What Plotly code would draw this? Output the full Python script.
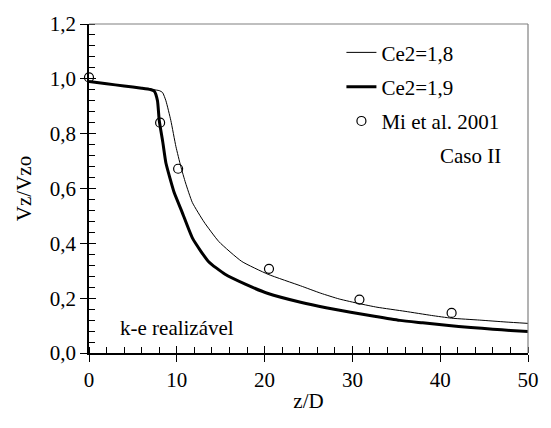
import plotly.graph_objects as go

# Data
x_ce18 = [0, 2, 4, 6, 8, 8.38, 8.76, 9.32, 9.9, 10.45, 11.0, 11.77, 13.1, 14.8, 17.4, 20.4,
          24.1, 26.4, 28.5, 30.8, 32.8, 36, 39, 41.3, 44.5, 47.5, 50]
y_ce18 = [0.99, 0.982, 0.974, 0.966, 0.957, 0.95, 0.92, 0.848, 0.753, 0.681, 0.62, 0.549, 0.478,
          0.406, 0.334, 0.287, 0.245, 0.218, 0.197, 0.18, 0.167, 0.152, 0.137, 0.127, 0.12, 0.113, 0.108]

x_ce19 = [0, 2, 4, 6, 7, 7.44, 7.8, 8.0, 8.4, 8.76, 9.2, 9.7, 10.6, 11.8, 13.6, 15.5, 17.8, 20.4,
          24.1, 27, 29.8, 32.5, 35.4, 38, 40.7, 43.5, 46, 48, 50]
y_ce19 = [0.99, 0.982, 0.974, 0.966, 0.961, 0.955, 0.92, 0.848, 0.77, 0.693, 0.64, 0.585, 0.514,
          0.418, 0.334, 0.287, 0.251, 0.217, 0.185, 0.165, 0.149, 0.134, 0.119, 0.11, 0.101, 0.093,
          0.087, 0.082, 0.078]

x_mi = [0, 8.1, 10.15, 20.5, 30.8, 41.3]
y_mi = [1.005, 0.84, 0.672, 0.307, 0.195, 0.146]

FONT = "Liberation Serif"
FS = 21

fig = go.Figure()
fig.add_trace(go.Scatter(x=x_ce18, y=y_ce18, mode="lines", name="Ce2=1,8",
                         line=dict(color="black", width=1, shape="spline", smoothing=0.5),
                         legendgroup="a"))
fig.add_trace(go.Scatter(x=x_ce19, y=y_ce19, mode="lines", name="Ce2=1,9",
                         line=dict(color="black", width=3, shape="spline", smoothing=0.5),
                         legendgroup="b"))
fig.add_trace(go.Scatter(x=x_mi, y=y_mi, mode="markers", name="Mi et al. 2001",
                         marker=dict(symbol="circle-open", size=9, color="black",
                                     line=dict(width=1.2, color="black")),
                         cliponaxis=False, legendgroup="c"))
# transparent copy on the overlay axes so that they render their inside major ticks
fig.add_trace(go.Scatter(x=x_mi, y=y_mi, xaxis="x2", yaxis="y2", mode="lines",
                         showlegend=False, hoverinfo="skip",
                         line=dict(color="rgba(0,0,0,0)")))

axfont = dict(family=FONT, size=FS, color="black")

fig.update_layout(
    width=551, height=428,
    margin=dict(l=89, r=19, t=19, b=75),
    paper_bgcolor="white", plot_bgcolor="white",
    separators=",.",
    font=dict(family=FONT, size=FS, color="black"),
    showlegend=True,
    legend=dict(x=0.575, y=0.975, xanchor="left", yanchor="top",
                bgcolor="rgba(0,0,0,0)", font=dict(family=FONT, size=FS, color="black"),
                traceorder="grouped", tracegroupgap=4),
    xaxis=dict(range=[0, 50], dtick=10, showgrid=False, zeroline=False,
               showline=True, linecolor="black", linewidth=1.5,
               ticks="outside", ticklen=7, tickwidth=1.2, tickcolor="black",
               minor=dict(dtick=2, ticks="inside", ticklen=6, tickwidth=1, tickcolor="black"),
               tickfont=axfont,
               title=dict(text="z/D", font=axfont, standoff=2)),
    yaxis=dict(range=[0, 1.2], dtick=0.2, tickformat=".1f", showgrid=False, zeroline=False,
               showline=True, linecolor="black", linewidth=1.5,
               ticks="outside", ticklen=7, tickwidth=1.2, tickcolor="black",
               minor=dict(dtick=0.04, ticks="inside", ticklen=6, tickwidth=1, tickcolor="black"),
               tickfont=axfont,
               title=dict(text="Vz/Vzo", font=axfont, standoff=12)),
    xaxis2=dict(range=[0, 50], dtick=10, overlaying="x", anchor="y2", side="bottom",
                showgrid=False, zeroline=False, showline=False, showticklabels=False,
                ticks="inside", ticklen=7, tickwidth=1.2, tickcolor="black"),
    yaxis2=dict(range=[0, 1.2], dtick=0.2, overlaying="y", anchor="x2", side="left",
                showgrid=False, zeroline=False, showline=False, showticklabels=False,
                ticks="inside", ticklen=7, tickwidth=1.2, tickcolor="black"),
    shapes=[
        dict(type="line", xref="paper", yref="paper", x0=0, x1=1, y0=1, y1=1,
             line=dict(color="#808080", width=1.2)),
        dict(type="line", xref="paper", yref="paper", x0=1, x1=1, y0=0, y1=1,
             line=dict(color="#808080", width=1.2)),
    ],
    annotations=[
        dict(text="Caso II", xref="paper", yref="paper", x=0.944, y=0.6,
             xanchor="right", yanchor="middle", showarrow=False, font=axfont),
        dict(text="k-e realizável", xref="paper", yref="paper", x=0.066, y=0.075,
             xanchor="left", yanchor="middle", showarrow=False, font=axfont),
    ],
)

# write the figure (plotly.js inline), then place it in a zero-margin page
fig.write_html("out.html", full_html=False, include_plotlyjs=True)
with open("out.html", encoding="utf-8") as fh:
    body = fh.read()
page = ('<html><head><meta charset="utf-8"></head><body style="margin:0">'
        '<div style="position:absolute;left:0px;top:0px">' + body + '</div></body></html>')
with open("out.html", "w", encoding="utf-8") as fh:
    fh.write(page)
